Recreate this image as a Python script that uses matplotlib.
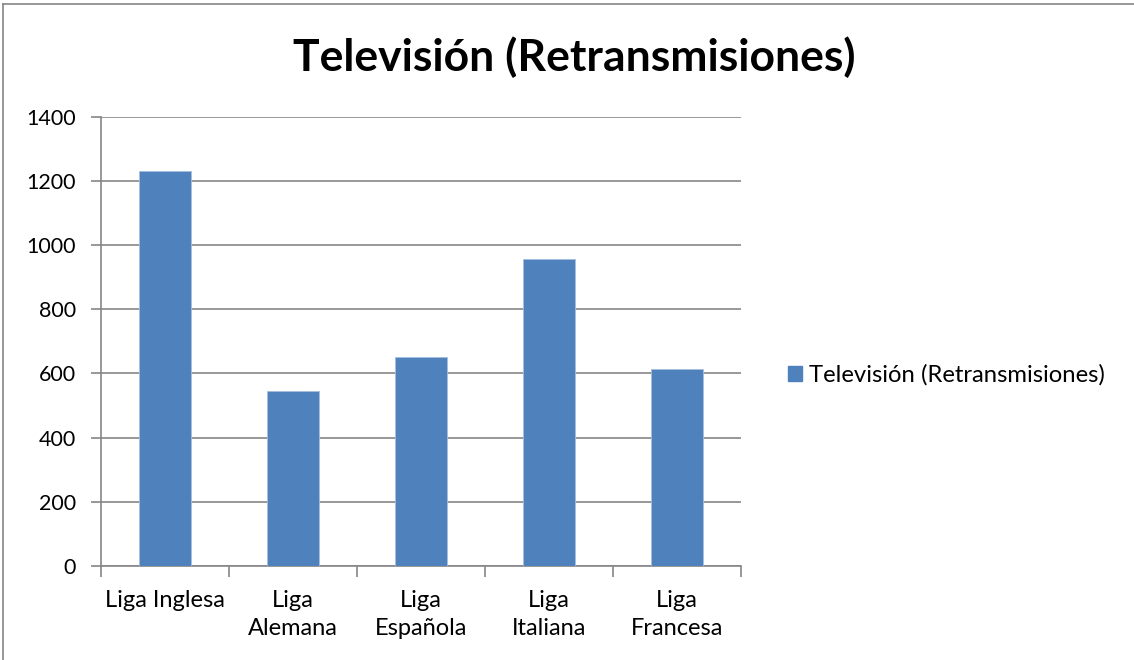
import matplotlib
matplotlib.use("Agg")
import matplotlib.pyplot as plt
from matplotlib.lines import Line2D
from matplotlib.patches import Patch

ligas = ["Liga Inglesa", "Liga\nAlemana", "Liga\nEspañola", "Liga\nItaliana", "Liga\nFrancesa"]
retransmisiones = [1230, 546, 652, 957, 613]
serie = "Televisión (Retransmisiones)"
y_ticks = [0, 200, 400, 600, 800, 1000, 1200, 1400]

plt.rcParams['font.family'] = ['Lato', 'DejaVu Sans']
color_barra = '#4F81BD'
gris = '#868686'

fig = plt.figure(figsize=(11.34, 6.6), dpi=100)
ax = fig.add_axes([0.0891, 0.1424, 0.5644, 0.6808])

x = list(range(len(ligas)))
ax.bar(x, retransmisiones, width=0.4, color=color_barra, edgecolor='#a7bfde', linewidth=0.6, zorder=3)

ax.set_xlim(-0.5, len(ligas) - 0.5)
ax.set_ylim(0, 1400)
ax.set_yticks(y_ticks)
ax.yaxis.grid(True, color=gris, linewidth=1.2, zorder=0)
ax.set_axisbelow(True)

# ticks at category boundaries, labels at centres
ax.set_xticks([i - 0.5 for i in range(len(ligas) + 1)])
ax.set_xticklabels([])
ax.set_xticks(x, minor=True)
ax.set_xticklabels(ligas, minor=True, fontsize=17, linespacing=1.45, va='top')
ax.tick_params(axis='x', which='minor', length=0, pad=17)
ax.tick_params(axis='x', which='major', length=8, color=gris, width=1.2)
ax.tick_params(axis='y', length=7, color=gris, width=1.2, labelsize=15.5, pad=11)

for s in ['top', 'right']:
    ax.spines[s].set_visible(False)
for s in ['left', 'bottom']:
    ax.spines[s].set_color(gris)
    ax.spines[s].set_linewidth(1.2)

fig.text(0.506, 0.913, serie, fontsize=32, fontweight='bold', ha='center', va='center')

handles = [Patch(facecolor=color_barra, edgecolor=color_barra)]
fig.legend(handles, [serie], loc='center left', bbox_to_anchor=(0.684, 0.432),
           frameon=False, fontsize=17.2, handlelength=0.6, handleheight=0.6,
           handletextpad=0.3, borderpad=0)

# chart area border (top and left visible)
fig.add_artist(Line2D([0.003, 1.0], [0.994, 0.994], color=gris, linewidth=1.2))
fig.add_artist(Line2D([0.003, 0.003], [0.0, 0.994], color=gris, linewidth=1.2))

fig.savefig("out.png", dpi=100)
